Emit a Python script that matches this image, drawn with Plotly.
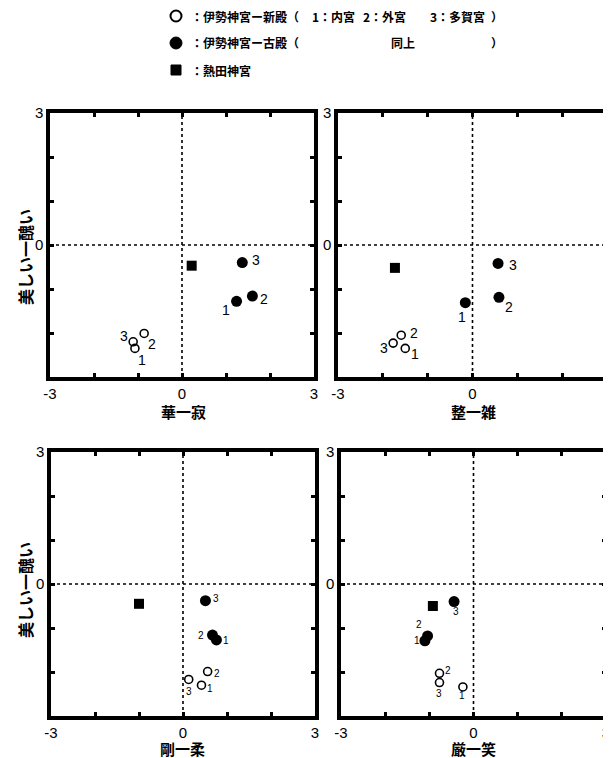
import plotly.graph_objects as go

# ---------------- data ----------------
panel_titles = ["華一寂", "整一雑", "剛一柔", "厳一笑"]
y_title = "美しい一醜い"
point_labels = ["1", "2", "3"]          # 1:内宮 2:外宮 3:多賀宮
x_ticks = [-3, 0, 3]
y_ticks = [0, 3]
minor_ticks = [-2, -1, 1, 2]

new_x = [[-1.07, -0.86, -1.11], [-1.50, -1.59, -1.77], [0.42, 0.56, 0.13], [-0.24, -0.77, -0.77]]
new_y = [[-2.35, -2.01, -2.20], [-2.35, -2.05, -2.23], [-2.30, -1.99, -2.17], [-2.34, -2.03, -2.24]]
old_x = [[1.24, 1.60, 1.37], [-0.16, 0.59, 0.57], [0.76, 0.67, 0.51], [-1.10, -1.04, -0.44]]
old_y = [[-1.28, -1.16, -0.40], [-1.31, -1.19, -0.42], [-1.27, -1.16, -0.38], [-1.29, -1.18, -0.40]]
atsuta_x = [0.22, -1.73, -1.00, -0.92]
atsuta_y = [-0.47, -0.52, -0.45, -0.50]

legend_new = ["：伊勢神宮ー新殿（", "1：内宮", "2：外宮", "3：多賀宮", "）"]
legend_old = ["：伊勢神宮ー古殿（", "同上", "）"]
legend_atsuta = ["：熱田神宮"]

# ---------------- style / layout ----------------
PAGE_OFF = 8                      # page body margin
W, H = 611 - PAGE_OFF, 758 - PAGE_OFF
# panel pixel boxes in page pixels (left, right, top, bottom)
boxes = [(50, 314, 113, 377), (338, 607, 113, 377), (51, 315, 452, 716), (341, 606, 452, 716)]
title_pos = [(183, 412), (473, 412), (182, 748), (473, 748)]
ytitle_pos = [(25, 257), None, (25, 590), None]
label_font = [14, 14, 10, 10]
# label offsets (dx, dy) in px, per panel, for new then old points 1..3
new_off = [[(7, -12), (8, -11), (-9, 6)], [(10, -6), (13, 2), (-9, -5)],
           [(9, -3), (9, -2), (0, -12)], [(-1, -9), (9, 3), (0, -11)]]
old_off = [[(-11, -9), (12, -3), (14, 3)], [(-3, -14), (10, -10), (15, -2)],
           [(10, -1), (-11, 0), (11, 2)], [(-8, 0), (-9, 11), (2, -10)]]
# legend layout: text piece start x (page px), row y
leg_new_x = [189, 310, 361, 428, 489]
leg_old_x = [189, 389, 489]
leg_ats_x = [189]
rows_y = [16, 43, 70]
sym_x = 176

def px(x):
    return (x - PAGE_OFF) / W

def py(y):
    return 1 - (y - PAGE_OFF) / H

NUM_FONT = "Liberation Sans, Arial, sans-serif"
CJK_FONT = "Noto Sans CJK JP, sans-serif"

fig = go.Figure()
layout = dict(width=W, height=H, margin=dict(l=0, r=0, t=0, b=0, pad=0),
              paper_bgcolor="white", plot_bgcolor="white", showlegend=False)
annotations = []
shapes = []

for i in range(4):
    l, r, t, b = boxes[i]
    sfx = "" if i == 0 else str(i + 1)
    xa, ya = "x" + sfx, "y" + sfx
    axis_common = dict(range=[-3, 3], showgrid=False, zeroline=False,
                       showline=True, linewidth=3.5, linecolor="black", mirror="allticks",
                       ticks="inside", ticklen=4, tickwidth=2.5, tickcolor="black",
                       tickfont=dict(family=NUM_FONT, size=15, color="black"),
                       minor=dict(tickvals=minor_ticks, ticks="inside", ticklen=4,
                                  tickwidth=2.5, tickcolor="black"),
                       fixedrange=True, automargin=False)
    layout["xaxis" + sfx] = dict(axis_common, domain=[px(l), px(r)], anchor=ya,
                                 tickvals=x_ticks, ticktext=[str(v) for v in x_ticks])
    layout["yaxis" + sfx] = dict(axis_common, domain=[py(b), py(t)], anchor=xa,
                                 tickvals=y_ticks, ticktext=[str(v) for v in y_ticks])

    # dotted zero lines
    shapes.append(dict(type="line", xref=xa, yref=ya, x0=-3, x1=3, y0=0, y1=0,
                       line=dict(color="black", width=1.6, dash="dot"), layer="below"))
    shapes.append(dict(type="line", xref=xa, yref=ya, x0=0, x1=0, y0=-3, y1=3,
                       line=dict(color="black", width=1.6, dash="dot"), layer="below"))

    fig.add_trace(go.Scatter(x=new_x[i], y=new_y[i], mode="markers", xaxis=xa, yaxis=ya,
                             marker=dict(symbol="circle-open", size=8, color="black",
                                         line=dict(width=1.6, color="black")),
                             hoverinfo="skip"))
    fig.add_trace(go.Scatter(x=old_x[i], y=old_y[i], mode="markers", xaxis=xa, yaxis=ya,
                             marker=dict(symbol="circle", size=11, color="black"),
                             hoverinfo="skip"))
    fig.add_trace(go.Scatter(x=[atsuta_x[i]], y=[atsuta_y[i]], mode="markers", xaxis=xa, yaxis=ya,
                             marker=dict(symbol="square", size=10, color="black"),
                             hoverinfo="skip"))

    for j in range(3):
        for xs, ys, offs in ((new_x, new_y, new_off), (old_x, old_y, old_off)):
            annotations.append(dict(x=xs[i][j], y=ys[i][j], xref=xa, yref=ya,
                                    text=point_labels[j], showarrow=False,
                                    xshift=offs[i][j][0], yshift=offs[i][j][1],
                                    font=dict(family=NUM_FONT, size=label_font[i], color="black")))

    tx, ty = title_pos[i]
    annotations.append(dict(x=px(tx), y=py(ty), xref="paper", yref="paper", text=panel_titles[i],
                            showarrow=False, xanchor="center", yanchor="middle",
                            font=dict(family=CJK_FONT, size=15, color="black", weight="bold")))
    if ytitle_pos[i] is not None:
        yx, yy = ytitle_pos[i]
        annotations.append(dict(x=px(yx), y=py(yy), xref="paper", yref="paper", text=y_title,
                                showarrow=False, textangle=-90, xanchor="center", yanchor="middle",
                                font=dict(family=CJK_FONT, size=16, color="black", weight="bold")))

# ---------------- legend (drawn manually) ----------------
LEG_FONT = dict(family=CJK_FONT, size=12, color="black", weight="bold")
shapes.append(dict(type="circle", xref="paper", yref="paper", xsizemode="pixel", ysizemode="pixel",
                   xanchor=px(sym_x), yanchor=py(rows_y[0]), x0=-5.5, x1=5.5, y0=-5.5, y1=5.5,
                   line=dict(color="black", width=2), fillcolor="white"))
shapes.append(dict(type="circle", xref="paper", yref="paper", xsizemode="pixel", ysizemode="pixel",
                   xanchor=px(sym_x), yanchor=py(rows_y[1]), x0=-6, x1=6, y0=-6, y1=6,
                   line=dict(color="black", width=1), fillcolor="black"))
shapes.append(dict(type="rect", xref="paper", yref="paper", xsizemode="pixel", ysizemode="pixel",
                   xanchor=px(sym_x), yanchor=py(rows_y[2]), x0=-5, x1=5, y0=-5, y1=5,
                   line=dict(color="black", width=1), fillcolor="black"))

for texts, xs_, ry in ((legend_new, leg_new_x, rows_y[0]), (legend_old, leg_old_x, rows_y[1]),
                       (legend_atsuta, leg_ats_x, rows_y[2])):
    for txt, xx in zip(texts, xs_):
        annotations.append(dict(x=px(xx), y=py(ry), xref="paper", yref="paper", text=txt,
                                showarrow=False, xanchor="left", yanchor="middle", font=LEG_FONT))

layout["annotations"] = annotations
layout["shapes"] = shapes
fig.update_layout(**layout)
fig.write_html("out.html")
